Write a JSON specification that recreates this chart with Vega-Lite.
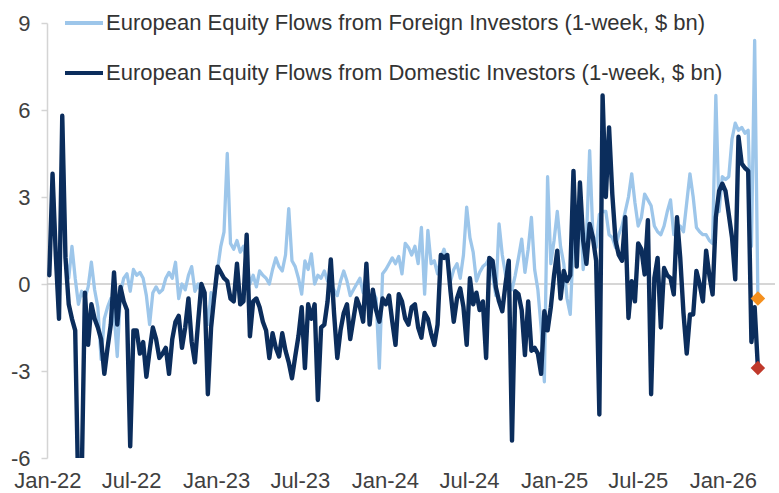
{
  "$schema": "https://vega.github.io/schema/vega-lite/v6.json",
  "width": 728,
  "height": 435,
  "autosize": {"type": "none"},
  "padding": {"left": 47, "top": 23, "right": 4, "bottom": 35},
  "background": "white",
  "config": {"view": {"stroke": null}, "font": "Liberation Sans"},
  "datasets": {
    "w": [
      {"d":"2022-01-05","f":0.3,"m":0.3},{"d":"2022-01-12","f":3.8,"m":3.8},{"d":"2022-01-19","f":1.0,"m":1.0},{"d":"2022-01-26","f":-1.2,"m":-1.2},
      {"d":"2022-02-02","f":5.8,"m":5.8},{"d":"2022-02-09","f":0.9,"m":0.9},{"d":"2022-02-16","f":0.2,"m":-0.7},{"d":"2022-02-23","f":1.3,"m":-1.2},
      {"d":"2022-03-02","f":0.2,"m":-1.6},{"d":"2022-03-09","f":-0.7,"m":-7.5},{"d":"2022-03-16","f":-0.25,"m":-6.8},{"d":"2022-03-23","f":-0.5,"m":-0.3},{"d":"2022-03-30","f":-0.1,"m":-2.1},
      {"d":"2022-04-06","f":0.75,"m":-0.7},{"d":"2022-04-13","f":-0.2,"m":-1.2},{"d":"2022-04-20","f":-0.8,"m":-1.5},{"d":"2022-04-27","f":-2.6,"m":-1.9},
      {"d":"2022-05-04","f":-1.2,"m":-3.1},{"d":"2022-05-11","f":-0.8,"m":-2.2},{"d":"2022-05-18","f":-0.5,"m":-1.4},{"d":"2022-05-25","f":-1.0,"m":0.4},
      {"d":"2022-06-01","f":-2.5,"m":-1.4},{"d":"2022-06-08","f":-0.3,"m":-0.1},{"d":"2022-06-15","f":0.2,"m":-0.6},{"d":"2022-06-22","f":0.35,"m":-0.9},{"d":"2022-06-29","f":-0.25,"m":-5.6},
      {"d":"2022-07-06","f":0.5,"m":-1.6},{"d":"2022-07-13","f":0.3,"m":-1.6},{"d":"2022-07-20","f":0.4,"m":-2.4},{"d":"2022-07-27","f":0.2,"m":-2.0},
      {"d":"2022-08-03","f":-0.4,"m":-3.2},{"d":"2022-08-10","f":-1.4,"m":-2.3},{"d":"2022-08-17","f":-0.3,"m":-1.5},{"d":"2022-08-24","f":-0.1,"m":-1.9},{"d":"2022-08-31","f":-0.3,"m":-2.55},
      {"d":"2022-09-07","f":-0.2,"m":-2.4},{"d":"2022-09-14","f":0.2,"m":-2.2},{"d":"2022-09-21","f":0.4,"m":-3.1},{"d":"2022-09-28","f":0.2,"m":-1.9},
      {"d":"2022-10-05","f":0.75,"m":-1.3},{"d":"2022-10-12","f":-0.5,"m":-1.1},{"d":"2022-10-19","f":0.0,"m":-2.2},{"d":"2022-10-26","f":-0.2,"m":-1.5},
      {"d":"2022-11-02","f":0.3,"m":-0.5},{"d":"2022-11-09","f":0.6,"m":-2.0},{"d":"2022-11-16","f":-0.25,"m":-2.7},{"d":"2022-11-23","f":0.0,"m":-1.3},{"d":"2022-11-30","f":-0.3,"m":0.0},
      {"d":"2022-12-07","f":-0.5,"m":-0.3},{"d":"2022-12-14","f":-1.4,"m":-3.8},{"d":"2022-12-21","f":-0.3,"m":-1.5},{"d":"2022-12-28","f":-0.5,"m":-0.4},
      {"d":"2023-01-04","f":0.5,"m":0.6},{"d":"2023-01-11","f":1.3,"m":0.4},{"d":"2023-01-18","f":1.8,"m":0.2},{"d":"2023-01-25","f":4.5,"m":0.1},
      {"d":"2023-02-01","f":1.4,"m":-0.5},{"d":"2023-02-08","f":1.2,"m":-0.6},{"d":"2023-02-15","f":1.5,"m":0.7},{"d":"2023-02-22","f":1.1,"m":-0.7},
      {"d":"2023-03-01","f":1.3,"m":-0.6},{"d":"2023-03-08","f":0.8,"m":1.7},{"d":"2023-03-15","f":0.0,"m":-1.8},{"d":"2023-03-22","f":0.3,"m":-0.6},{"d":"2023-03-29","f":-0.1,"m":-0.5},
      {"d":"2023-04-05","f":0.45,"m":-0.8},{"d":"2023-04-12","f":0.3,"m":-1.3},{"d":"2023-04-19","f":0.2,"m":-1.6},{"d":"2023-04-26","f":0.0,"m":-2.55},
      {"d":"2023-05-03","f":0.5,"m":-1.7},{"d":"2023-05-10","f":0.9,"m":-2.2},{"d":"2023-05-17","f":0.6,"m":-2.5},{"d":"2023-05-24","f":0.45,"m":-1.7},{"d":"2023-05-31","f":1.0,"m":-2.3},
      {"d":"2023-06-07","f":2.6,"m":-2.7},{"d":"2023-06-14","f":0.8,"m":-3.25},{"d":"2023-06-21","f":0.6,"m":-2.5},{"d":"2023-06-28","f":0.2,"m":-1.8},
      {"d":"2023-07-05","f":-0.35,"m":-0.8},{"d":"2023-07-12","f":0.8,"m":-2.9},{"d":"2023-07-19","f":0.5,"m":-0.7},{"d":"2023-07-26","f":1.04,"m":-1.2},
      {"d":"2023-08-02","f":0.0,"m":-0.7},{"d":"2023-08-09","f":0.3,"m":-4.0},{"d":"2023-08-16","f":0.2,"m":-1.5},{"d":"2023-08-23","f":0.45,"m":-1.4},{"d":"2023-08-30","f":0.1,"m":-0.6},
      {"d":"2023-09-06","f":0.0,"m":0.85},{"d":"2023-09-13","f":-0.2,"m":-1.0},{"d":"2023-09-20","f":-0.4,"m":-2.55},{"d":"2023-09-27","f":0.1,"m":-1.6},
      {"d":"2023-10-04","f":0.45,"m":-1.0},{"d":"2023-10-11","f":0.1,"m":-0.7},{"d":"2023-10-18","f":-0.4,"m":-1.9},{"d":"2023-10-25","f":-0.2,"m":-1.2},
      {"d":"2023-11-01","f":0.0,"m":-0.5},{"d":"2023-11-08","f":0.2,"m":-0.8},{"d":"2023-11-15","f":-0.3,"m":-1.3},{"d":"2023-11-22","f":-0.2,"m":0.7},{"d":"2023-11-29","f":-0.7,"m":-1.4},
      {"d":"2023-12-06","f":-0.25,"m":-0.2},{"d":"2023-12-13","f":-0.5,"m":-0.9},{"d":"2023-12-20","f":-2.9,"m":-1.3},{"d":"2023-12-27","f":0.35,"m":-0.5},
      {"d":"2024-01-03","f":0.5,"m":-0.7},{"d":"2024-01-10","f":0.7,"m":-0.4},{"d":"2024-01-17","f":0.9,"m":-1.3},{"d":"2024-01-24","f":0.7,"m":-2.1},{"d":"2024-01-31","f":0.95,"m":-0.35},
      {"d":"2024-02-07","f":0.35,"m":-0.6},{"d":"2024-02-14","f":1.4,"m":-1.2},{"d":"2024-02-21","f":1.26,"m":-1.4},{"d":"2024-02-28","f":1.0,"m":-0.8},
      {"d":"2024-03-06","f":1.3,"m":-0.7},{"d":"2024-03-13","f":0.7,"m":-1.5},{"d":"2024-03-20","f":1.95,"m":-1.85},{"d":"2024-03-27","f":-0.35,"m":-1.0},
      {"d":"2024-04-03","f":1.85,"m":-1.2},{"d":"2024-04-10","f":0.7,"m":-1.7},{"d":"2024-04-17","f":0.8,"m":-2.1},{"d":"2024-04-24","f":0.35,"m":-1.4},
      {"d":"2024-05-01","f":0.9,"m":1.0},{"d":"2024-05-08","f":1.2,"m":0.9},{"d":"2024-05-15","f":0.8,"m":1.0},{"d":"2024-05-22","f":0.1,"m":-0.25},{"d":"2024-05-29","f":0.5,"m":-1.3},
      {"d":"2024-06-05","f":0.7,"m":-0.5},{"d":"2024-06-12","f":0.2,"m":-0.15},{"d":"2024-06-19","f":1.0,"m":-0.8},{"d":"2024-06-26","f":2.65,"m":-2.1},
      {"d":"2024-07-03","f":1.6,"m":0.2},{"d":"2024-07-10","f":1.1,"m":-0.7},{"d":"2024-07-17","f":0.1,"m":-0.3},{"d":"2024-07-24","f":0.4,"m":-0.9},{"d":"2024-07-31","f":0.6,"m":-0.6},
      {"d":"2024-08-07","f":0.7,"m":-2.55},{"d":"2024-08-14","f":0.9,"m":0.9},{"d":"2024-08-21","f":0.3,"m":0.8},{"d":"2024-08-28","f":-0.4,"m":-0.1},
      {"d":"2024-09-04","f":2.07,"m":-0.6},{"d":"2024-09-11","f":1.0,"m":-0.94},{"d":"2024-09-18","f":0.33,"m":0.0},{"d":"2024-09-25","f":0.1,"m":0.8},
      {"d":"2024-10-02","f":-0.2,"m":-5.4},{"d":"2024-10-09","f":0.3,"m":-0.25},{"d":"2024-10-16","f":0.9,"m":-0.35},{"d":"2024-10-23","f":1.55,"m":-0.9},{"d":"2024-10-30","f":0.4,"m":-2.45},
      {"d":"2024-11-06","f":1.2,"m":-0.6},{"d":"2024-11-13","f":2.3,"m":-2.3},{"d":"2024-11-20","f":0.5,"m":-2.2},{"d":"2024-11-27","f":-0.2,"m":-2.4},
      {"d":"2024-12-04","f":-1.5,"m":-3.1},{"d":"2024-12-11","f":-3.37,"m":-0.94},{"d":"2024-12-18","f":3.7,"m":-1.6},{"d":"2024-12-25","f":0.7,"m":-0.8},
      {"d":"2025-01-01","f":1.5,"m":0.3},{"d":"2025-01-08","f":2.5,"m":1.15},{"d":"2025-01-15","f":1.3,"m":-0.5},{"d":"2025-01-22","f":0.7,"m":0.45},{"d":"2025-01-29","f":-0.5,"m":0.1},
      {"d":"2025-02-05","f":-1.05,"m":0.3},{"d":"2025-02-12","f":1.5,"m":3.9},{"d":"2025-02-19","f":1.8,"m":0.6},{"d":"2025-02-26","f":3.1,"m":3.5},
      {"d":"2025-03-05","f":0.5,"m":1.5},{"d":"2025-03-12","f":1.5,"m":0.7},{"d":"2025-03-19","f":4.6,"m":2.07},{"d":"2025-03-26","f":1.7,"m":1.6},
      {"d":"2025-04-02","f":1.26,"m":0.8},{"d":"2025-04-09","f":2.4,"m":-4.5},{"d":"2025-04-16","f":2.5,"m":6.5},{"d":"2025-04-23","f":2.5,"m":3.0},{"d":"2025-04-30","f":1.7,"m":5.4},
      {"d":"2025-05-07","f":1.6,"m":3.1},{"d":"2025-05-14","f":1.26,"m":1.5},{"d":"2025-05-21","f":1.7,"m":1.0},{"d":"2025-05-28","f":2.0,"m":0.8},
      {"d":"2025-06-04","f":2.5,"m":2.3},{"d":"2025-06-11","f":3.0,"m":-1.17},{"d":"2025-06-18","f":3.8,"m":0.1},{"d":"2025-06-25","f":2.8,"m":-0.6},
      {"d":"2025-07-02","f":2.0,"m":1.4},{"d":"2025-07-09","f":2.3,"m":1.2},{"d":"2025-07-16","f":3.1,"m":0.33},{"d":"2025-07-23","f":2.9,"m":2.2},{"d":"2025-07-30","f":2.7,"m":-3.8},
      {"d":"2025-08-06","f":2.0,"m":0.2},{"d":"2025-08-13","f":1.8,"m":0.9},{"d":"2025-08-20","f":1.7,"m":-1.5},{"d":"2025-08-27","f":2.0,"m":0.55},
      {"d":"2025-09-03","f":2.5,"m":0.3},{"d":"2025-09-10","f":2.9,"m":0.2},{"d":"2025-09-17","f":1.7,"m":-0.36},{"d":"2025-09-24","f":1.84,"m":2.3},
      {"d":"2025-10-01","f":2.0,"m":0.9},{"d":"2025-10-08","f":1.8,"m":-1.0},{"d":"2025-10-15","f":2.8,"m":-2.4},{"d":"2025-10-22","f":3.8,"m":-1.05},{"d":"2025-10-29","f":3.0,"m":-1.05},
      {"d":"2025-11-05","f":1.95,"m":0.45},{"d":"2025-11-12","f":1.8,"m":0.0},{"d":"2025-11-19","f":1.7,"m":-0.6},{"d":"2025-11-26","f":1.7,"m":1.15},
      {"d":"2025-12-03","f":1.5,"m":0.3},{"d":"2025-12-10","f":1.4,"m":-0.36},{"d":"2025-12-17","f":6.5,"m":2.3},{"d":"2025-12-24","f":2.5,"m":3.2},{"d":"2025-12-31","f":3.7,"m":3.46},
      {"d":"2026-01-07","f":3.6,"m":3.2},{"d":"2026-01-14","f":3.7,"m":2.4},{"d":"2026-01-21","f":5.0,"m":1.6},{"d":"2026-01-28","f":5.55,"m":0.16},
      {"d":"2026-02-04","f":5.3,"m":5.08},{"d":"2026-02-11","f":5.4,"m":4.15},{"d":"2026-02-18","f":5.2,"m":4.0},{"d":"2026-02-25","f":5.3,"m":3.9},
      {"d":"2026-03-04","f":1.3,"m":-2.0},{"d":"2026-03-11","f":8.4,"m":-0.8},{"d":"2026-03-18","f":-0.5,"m":-2.9}
    ],
    "ends": [
      {"d": "2026-03-18", "v": -0.5, "c": "o"},
      {"d": "2026-03-18", "v": -2.9, "c": "r"}
    ]
  },
  "layer": [
    {
      "data": {"values": [{"z": 0}]},
      "mark": {"type": "rule", "color": "#C8C8C8", "strokeWidth": 1.5},
      "encoding": {
        "y": {"field": "z", "type": "quantitative", "title": null,
          "scale": {"domain": [-6, 9], "nice": false, "zero": false},
          "axis": {"values": [-6, -3, 0, 3, 6, 9], "labelExpr": "'' + datum.value", "grid": false, "domain": true, "domainColor": "#D4D4D4", "domainWidth": 1.5, "ticks": true, "tickColor": "#D4D4D4", "tickWidth": 1.5, "tickSize": 6, "labelFontSize": 22, "labelFont": "Liberation Sans", "labelColor": "#404040", "labelPadding": 11, "title": null}}
      }
    },
    {
      "data": {"name": "w"},
      "mark": {"type": "line", "strokeWidth": 3.3, "strokeJoin": "round", "strokeCap": "round", "clip": true},
      "encoding": {
        "x": {"field": "d", "type": "temporal", "title": null,
          "scale": {"type": "utc", "domain": [{"year": 2021, "month": 12, "date": 31, "utc": true}, {"year": 2026, "month": 4, "date": 24, "utc": true}]},
          "axis": {"values": [{"year": 2022, "month": 1, "date": 1, "utc": true}, {"year": 2022, "month": 7, "date": 1, "utc": true}, {"year": 2023, "month": 1, "date": 1, "utc": true}, {"year": 2023, "month": 7, "date": 1, "utc": true}, {"year": 2024, "month": 1, "date": 1, "utc": true}, {"year": 2024, "month": 7, "date": 1, "utc": true}, {"year": 2025, "month": 1, "date": 1, "utc": true}, {"year": 2025, "month": 7, "date": 1, "utc": true}, {"year": 2026, "month": 1, "date": 1, "utc": true}], "labelExpr": "utcFormat(datum.value, '%b-%y')", "labelFlush": false, "labelOverlap": false, "domain": false, "ticks": false, "tickSize": 0, "grid": false, "labelFontSize": 22, "labelFont": "Liberation Sans", "labelColor": "#404040", "labelPadding": 12, "title": null}},
        "y": {"field": "f", "type": "quantitative", "title": null,
          "scale": {"domain": [-6, 9], "nice": false, "zero": false},
          "axis": {"values": [-6, -3, 0, 3, 6, 9], "labelExpr": "'' + datum.value", "grid": false, "domain": true, "domainColor": "#D4D4D4", "domainWidth": 1.5, "ticks": true, "tickColor": "#D4D4D4", "tickWidth": 1.5, "tickSize": 6, "labelFontSize": 22, "labelFont": "Liberation Sans", "labelColor": "#404040", "labelPadding": 11, "title": null}},
        "color": {"datum": "European Equity Flows from Foreign Investors (1-week, $ bn)",
          "scale": {"domain": ["European Equity Flows from Foreign Investors (1-week, $ bn)", "European Equity Flows from Domestic Investors (1-week, $ bn)"], "range": ["#9DC6EA", "#0B2D5C"]},
          "legend": {"title": null, "orient": "none", "legendX": 16, "legendY": -21, "direction": "vertical", "symbolType": "stroke", "symbolSize": 1444, "symbolStrokeWidth": 4, "labelFontSize": 22, "labelFont": "Liberation Sans", "labelColor": "#333333", "labelLimit": 800, "labelOffset": 1, "rowPadding": 18, "padding": 0}}
      }
    },
    {
      "data": {"name": "w"},
      "mark": {"type": "line", "strokeWidth": 4.4, "strokeJoin": "round", "strokeCap": "round", "clip": true},
      "encoding": {
        "x": {"field": "d", "type": "temporal", "title": null,
          "scale": {"type": "utc", "domain": [{"year": 2021, "month": 12, "date": 31, "utc": true}, {"year": 2026, "month": 4, "date": 24, "utc": true}]},
          "axis": {"values": [{"year": 2022, "month": 1, "date": 1, "utc": true}, {"year": 2022, "month": 7, "date": 1, "utc": true}, {"year": 2023, "month": 1, "date": 1, "utc": true}, {"year": 2023, "month": 7, "date": 1, "utc": true}, {"year": 2024, "month": 1, "date": 1, "utc": true}, {"year": 2024, "month": 7, "date": 1, "utc": true}, {"year": 2025, "month": 1, "date": 1, "utc": true}, {"year": 2025, "month": 7, "date": 1, "utc": true}, {"year": 2026, "month": 1, "date": 1, "utc": true}], "labelExpr": "utcFormat(datum.value, '%b-%y')", "labelFlush": false, "labelOverlap": false, "domain": false, "ticks": false, "tickSize": 0, "grid": false, "labelFontSize": 22, "labelFont": "Liberation Sans", "labelColor": "#404040", "labelPadding": 12, "title": null}},
        "y": {"field": "m", "type": "quantitative", "title": null,
          "scale": {"domain": [-6, 9], "nice": false, "zero": false},
          "axis": {"values": [-6, -3, 0, 3, 6, 9], "labelExpr": "'' + datum.value", "grid": false, "domain": true, "domainColor": "#D4D4D4", "domainWidth": 1.5, "ticks": true, "tickColor": "#D4D4D4", "tickWidth": 1.5, "tickSize": 6, "labelFontSize": 22, "labelFont": "Liberation Sans", "labelColor": "#404040", "labelPadding": 11, "title": null}},
        "color": {"datum": "European Equity Flows from Domestic Investors (1-week, $ bn)",
          "scale": {"domain": ["European Equity Flows from Foreign Investors (1-week, $ bn)", "European Equity Flows from Domestic Investors (1-week, $ bn)"], "range": ["#9DC6EA", "#0B2D5C"]},
          "legend": {"title": null, "orient": "none", "legendX": 16, "legendY": -21, "direction": "vertical", "symbolType": "stroke", "symbolSize": 1444, "symbolStrokeWidth": 4, "labelFontSize": 22, "labelFont": "Liberation Sans", "labelColor": "#333333", "labelLimit": 800, "labelOffset": 1, "rowPadding": 18, "padding": 0}}
      }
    },
    {
      "data": {"name": "ends"},
      "transform": [{"filter": "datum.c == 'o'"}],
      "mark": {"type": "point", "shape": "diamond", "filled": true, "opacity": 1, "color": "#F5901E", "size": 210},
      "encoding": {
        "x": {"field": "d", "type": "temporal", "title": null,
          "scale": {"type": "utc", "domain": [{"year": 2021, "month": 12, "date": 31, "utc": true}, {"year": 2026, "month": 4, "date": 24, "utc": true}]},
          "axis": {"values": [{"year": 2022, "month": 1, "date": 1, "utc": true}, {"year": 2022, "month": 7, "date": 1, "utc": true}, {"year": 2023, "month": 1, "date": 1, "utc": true}, {"year": 2023, "month": 7, "date": 1, "utc": true}, {"year": 2024, "month": 1, "date": 1, "utc": true}, {"year": 2024, "month": 7, "date": 1, "utc": true}, {"year": 2025, "month": 1, "date": 1, "utc": true}, {"year": 2025, "month": 7, "date": 1, "utc": true}, {"year": 2026, "month": 1, "date": 1, "utc": true}], "labelExpr": "utcFormat(datum.value, '%b-%y')", "labelFlush": false, "labelOverlap": false, "domain": false, "ticks": false, "tickSize": 0, "grid": false, "labelFontSize": 22, "labelFont": "Liberation Sans", "labelColor": "#404040", "labelPadding": 12, "title": null}},
        "y": {"field": "v", "type": "quantitative", "title": null,
          "scale": {"domain": [-6, 9], "nice": false, "zero": false},
          "axis": {"values": [-6, -3, 0, 3, 6, 9], "labelExpr": "'' + datum.value", "grid": false, "domain": true, "domainColor": "#D4D4D4", "domainWidth": 1.5, "ticks": true, "tickColor": "#D4D4D4", "tickWidth": 1.5, "tickSize": 6, "labelFontSize": 22, "labelFont": "Liberation Sans", "labelColor": "#404040", "labelPadding": 11, "title": null}}
      }
    },
    {
      "data": {"name": "ends"},
      "transform": [{"filter": "datum.c == 'r'"}],
      "mark": {"type": "point", "shape": "diamond", "filled": true, "opacity": 1, "color": "#C0392B", "size": 210},
      "encoding": {
        "x": {"field": "d", "type": "temporal", "title": null,
          "scale": {"type": "utc", "domain": [{"year": 2021, "month": 12, "date": 31, "utc": true}, {"year": 2026, "month": 4, "date": 24, "utc": true}]},
          "axis": {"values": [{"year": 2022, "month": 1, "date": 1, "utc": true}, {"year": 2022, "month": 7, "date": 1, "utc": true}, {"year": 2023, "month": 1, "date": 1, "utc": true}, {"year": 2023, "month": 7, "date": 1, "utc": true}, {"year": 2024, "month": 1, "date": 1, "utc": true}, {"year": 2024, "month": 7, "date": 1, "utc": true}, {"year": 2025, "month": 1, "date": 1, "utc": true}, {"year": 2025, "month": 7, "date": 1, "utc": true}, {"year": 2026, "month": 1, "date": 1, "utc": true}], "labelExpr": "utcFormat(datum.value, '%b-%y')", "labelFlush": false, "labelOverlap": false, "domain": false, "ticks": false, "tickSize": 0, "grid": false, "labelFontSize": 22, "labelFont": "Liberation Sans", "labelColor": "#404040", "labelPadding": 12, "title": null}},
        "y": {"field": "v", "type": "quantitative", "title": null,
          "scale": {"domain": [-6, 9], "nice": false, "zero": false},
          "axis": {"values": [-6, -3, 0, 3, 6, 9], "labelExpr": "'' + datum.value", "grid": false, "domain": true, "domainColor": "#D4D4D4", "domainWidth": 1.5, "ticks": true, "tickColor": "#D4D4D4", "tickWidth": 1.5, "tickSize": 6, "labelFontSize": 22, "labelFont": "Liberation Sans", "labelColor": "#404040", "labelPadding": 11, "title": null}}
      }
    }
  ]
}
